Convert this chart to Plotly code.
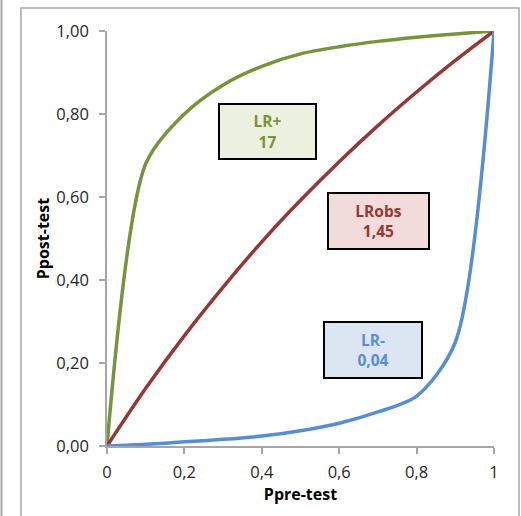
import plotly.graph_objects as go

# Pre-test probability grid and the post-test probability read for each likelihood ratio
p_pre = [0, 0.1, 0.2, 0.3, 0.4, 0.5, 0.6, 0.7, 0.8, 0.9, 1.0]
post_lr_pos = [0, 0.68, 0.80, 0.87, 0.915, 0.945, 0.962, 0.975, 0.985, 0.993, 1.0]
post_lr_obs = [0, 0.139, 0.266, 0.383, 0.492, 0.592, 0.685, 0.772, 0.853, 0.929, 1.0]
post_lr_neg = [0, 0.004, 0.01, 0.016, 0.024, 0.037, 0.055, 0.082, 0.12, 0.25, 1.0]

box_titles = ["LR+", "LRobs", "LR-"]
box_values = ["17", "1,45", "0,04"]

x_ticks = [0, 0.2, 0.4, 0.6, 0.8, 1.0]
x_tick_text = ["0", "0,2", "0,4", "0,6", "0,8", "1"]
y_ticks = [0, 0.2, 0.4, 0.6, 0.8, 1.0]

GREEN = "#77933C"
RED = "#953735"
BLUE = "#558ED5"
FONT = "Open Sans"

fig = go.Figure()
for ys, col in [(post_lr_pos, GREEN), (post_lr_obs, RED), (post_lr_neg, BLUE)]:
    fig.add_trace(go.Scatter(
        x=p_pre, y=ys, mode="lines",
        line=dict(color=col, width=3.5, shape="spline", smoothing=0.8),
        cliponaxis=False, showlegend=False, hoverinfo="skip",
    ))

# Labelled boxes for each ratio
boxes = [
    (0.415, 0.758, GREEN, "#EBF1DE", 95, 53),
    (0.702, 0.542, RED, "#F2DCDB", 99, 54),
    (0.687, 0.231, BLUE, "#DCE6F2", 96, 54),
]
for (bx, by, col, fill, w, h), t, v in zip(boxes, box_titles, box_values):
    fig.add_annotation(
        x=bx, y=by, xref="x", yref="y", showarrow=False,
        text=f"<b>{t}</b><br><b>{v}</b>",
        font=dict(family=FONT, size=15.5, color=col),
        bgcolor=fill, bordercolor="#000000", borderwidth=2, borderpad=0,
        width=w, height=h, align="center", valign="middle",
    )

# Chart frame lines
fig.add_shape(type="rect", xref="paper", yref="paper",
              x0=(21 - 107) / 387, x1=(519 - 107) / 387,
              y0=(446 - 530) / 415, y1=(446 - 8) / 415,
              line=dict(color="#A6A6A6", width=1.5), fillcolor="rgba(0,0,0,0)", layer="below")
fig.add_shape(type="line", xref="paper", yref="paper",
              x0=(1.5 - 107) / 387, x1=(1.5 - 107) / 387,
              y0=(446 - 530) / 415, y1=(446 + 10) / 415,
              line=dict(color="#A6A6A6", width=2), layer="below")

axis_common = dict(
    showgrid=False, zeroline=False, showline=True, linecolor="#A6A6A6", linewidth=1.5,
    ticks="outside", tickcolor="#A6A6A6", ticklen=6, tickwidth=1.5,
    tickfont=dict(family=FONT, size=16.5, color="#262626"),
    range=[0, 1], fixedrange=True,
)

fig.update_layout(
    width=521, height=516,
    margin=dict(l=107, r=27, t=31, b=70),
    paper_bgcolor="white", plot_bgcolor="white",
    separators=",.",
    xaxis=dict(**axis_common, tickvals=x_ticks, ticktext=x_tick_text, ticklabelstandoff=4,
               title=dict(text="<b>Ppre-test</b>", font=dict(family=FONT, size=16, color="#000000"), standoff=4)),
    yaxis=dict(**axis_common, tickvals=y_ticks, tickformat=".2f", ticklabelstandoff=7,
               title=dict(text="<b>Ppost-test</b>", font=dict(family=FONT, size=16, color="#000000"), standoff=3)),
)

fig.write_html("out.html")
